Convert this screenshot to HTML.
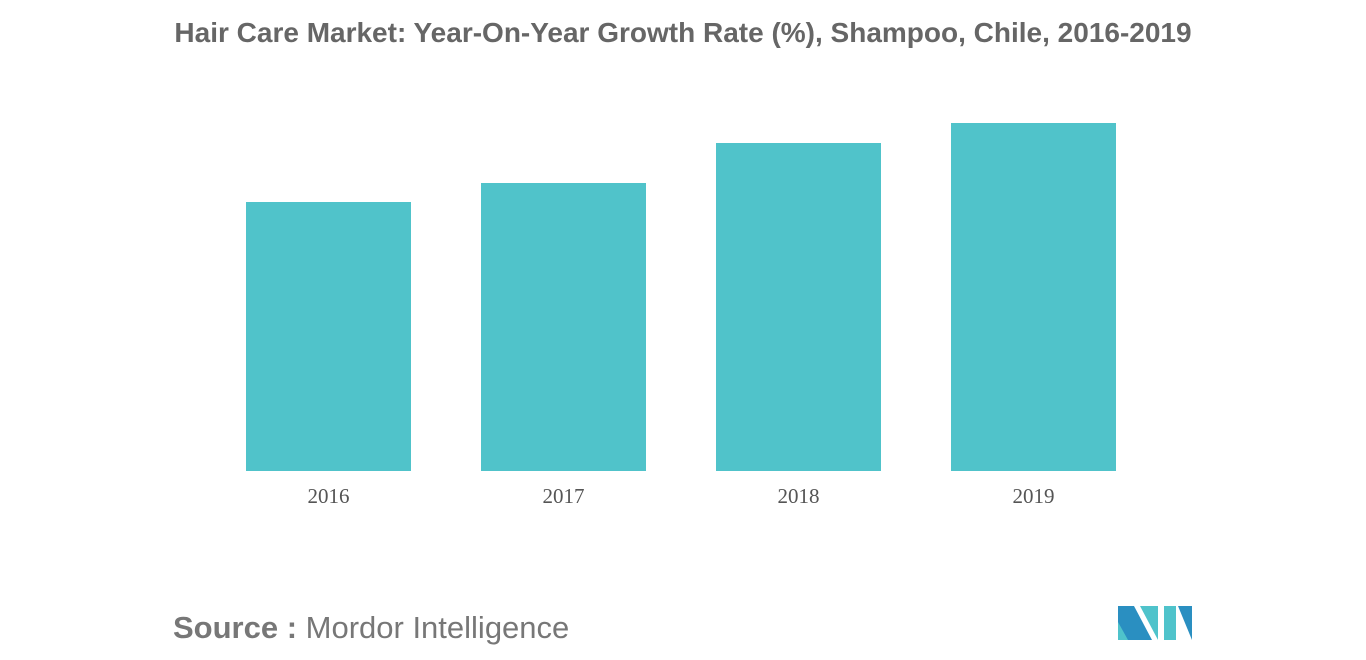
<!DOCTYPE html>
<html><head><meta charset="utf-8"><style>
body{margin:0;width:1366px;height:655px;background:#fff;overflow:hidden;font-family:"Liberation Sans",sans-serif}
</style></head><body>
<svg width="1366" height="655">
<text x="683" y="42" text-anchor="middle" font-size="28" font-weight="bold" fill="#666">Hair Care Market: Year-On-Year Growth Rate (%), Shampoo, Chile, 2016-2019</text>
<g id="bars"></g>
<g id="labels"></g>
<text x="173" y="638" font-size="31" fill="#777"><tspan font-weight="bold">Source :</tspan> Mordor Intelligence</text>
<g>
<polygon points="1118,606 1134,606 1152,640 1118,640" fill="#2a8fc1"/>
<polygon points="1118,622 1128,640 1118,640" fill="#4fc3cb"/>
<polygon points="1140,606 1158,606 1158,640" fill="#4fc3cb"/>
<polygon points="1164,606 1176,606 1176,640 1164,640" fill="#4fc3cb"/>
<polygon points="1178,606 1192,606 1192,640" fill="#2a8fc1"/>
</g>
</svg>
<script>
const categories=["2016","2017","2018","2019"];
const values=[2.69,2.88,3.28,3.48];
const ns="http://www.w3.org/2000/svg";
const x0=246,step=235,bw=165,base=471,scale=100;
function xPos(i){return x0+i*step;}
function yPos(v){return base-v*scale;}
const gb=document.getElementById('bars'),gl=document.getElementById('labels');
categories.forEach((c,i)=>{
 const r=document.createElementNS(ns,'rect');
 r.setAttribute('x',xPos(i));r.setAttribute('y',yPos(values[i]));
 r.setAttribute('width',bw);r.setAttribute('height',base-yPos(values[i]));
 r.setAttribute('fill','#50c3ca');
 
 
 gb.appendChild(r);
 const t=document.createElementNS(ns,'text');
 t.setAttribute('x',xPos(i)+bw/2);t.setAttribute('y',503);
 t.setAttribute('text-anchor','middle');t.setAttribute('font-size','21');
 t.setAttribute('font-family','Liberation Serif, serif');t.setAttribute('fill','#555');
 t.textContent=c;
 
 
 gl.appendChild(t);
});
</script>
</body></html>
